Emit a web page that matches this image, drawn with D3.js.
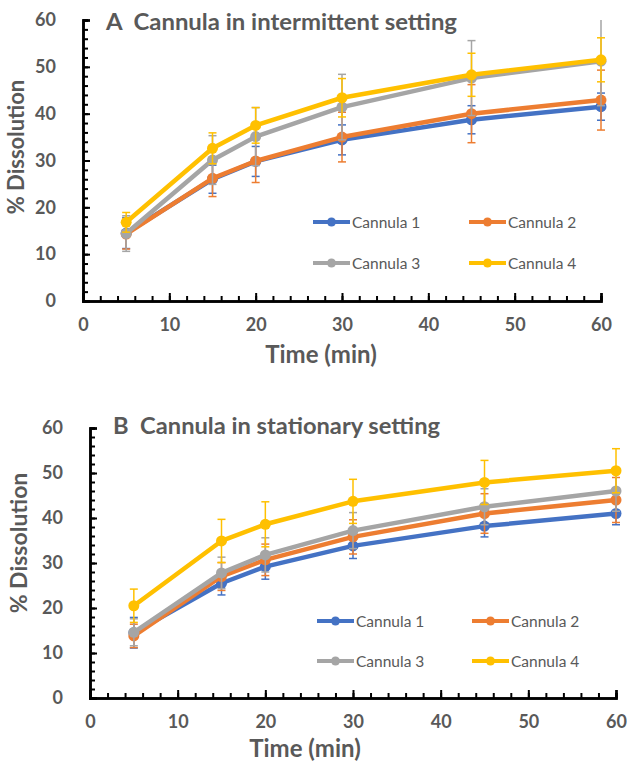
<!DOCTYPE html>
<html><head><meta charset="utf-8">
<script src="https://cdn.jsdelivr.net/npm/d3@7"></script>
<style>body{margin:0;background:#fff}svg{display:block}</style>
</head><body>
<script>
const times = [5, 15, 20, 30, 45, 60];
const seriesNames = ["Cannula 1", "Cannula 2", "Cannula 3", "Cannula 4"];
const seriesColors = ["#4472C4", "#ED7D31", "#A5A5A5", "#FFC000"];
const xTicks = [0, 10, 20, 30, 40, 50, 60];
const yTicks = [0, 10, 20, 30, 40, 50, 60];

// Panel A: intermittent setting
const aTitle = "A  Cannula in intermittent setting";
const aC1 = [14.5, 26.0, 29.8, 34.4, 38.7, 41.5];
const aC2 = [14.3, 26.2, 29.9, 35.0, 40.0, 42.9];
const aC3 = [14.4, 30.1, 35.1, 41.4, 47.6, 51.2];
const aC4 = [16.8, 32.6, 37.5, 43.4, 48.3, 51.5];
const aE1 = [3.3, 3.0, 3.2, 3.2, 3.0, 2.9];
const aE2 = [3.2, 3.9, 4.6, 5.3, 6.2, 6.4];
const aE3 = [3.8, 5.2, 6.2, 7.0, 8.0, 9.5];
const aE4 = [2.1, 3.3, 3.8, 4.1, 4.6, 4.7];

// Panel B: stationary setting
const bTitle = "B  Cannula in stationary setting";
const bC1 = [14.5, 25.5, 29.2, 33.8, 38.2, 41.0];
const bC2 = [13.8, 27.0, 30.7, 35.8, 41.0, 44.0];
const bC3 = [14.6, 27.8, 31.8, 37.2, 42.5, 46.0];
const bC4 = [20.5, 34.9, 38.6, 43.7, 47.9, 50.5];
const bE1 = [3.4, 2.6, 2.8, 2.8, 2.4, 2.5];
const bE2 = [2.6, 3.1, 3.5, 3.8, 4.4, 5.0];
const bE3 = [3.0, 3.5, 3.8, 4.0, 4.0, 4.5];
const bE4 = [3.7, 4.8, 5.0, 4.9, 4.9, 4.9];

const W = 627, H = 767;
const FONT = "Lato, 'Open Sans', sans-serif";
const GREY = "#595959";

const svg = d3.select("body").append("svg").attr("width", W).attr("height", H);

function panel(cfg) {
  const x = d3.scaleLinear().domain([0, 60]).range([cfg.x0, cfg.x1]);
  const y = d3.scaleLinear().domain([0, 60]).range([cfg.y0, cfg.y1]);
  const g = svg.append("g");
  const clipId = "clip" + cfg.id;
  svg.append("clipPath").attr("id", clipId).append("rect")
    .attr("x", cfg.x0 - 10).attr("y", cfg.y1).attr("width", cfg.x1 - cfg.x0 + 20).attr("height", cfg.y0 - cfg.y1);

  // title
  g.append("text").attr("x", cfg.titleX).attr("y", cfg.titleY)
    .attr("font-family", FONT).attr("font-weight", "bold").attr("font-size", 22)
    .attr("textLength", cfg.titleLen).attr("lengthAdjust", "spacingAndGlyphs")
    .attr("fill", GREY).style("white-space", "pre").text(cfg.title);

  // legend
  const leg = g.append("g");
  seriesNames.forEach((n, i) => {
    const lx = cfg.legX[i % 2], ly = cfg.legY[Math.floor(i / 2)];
    leg.append("line").attr("x1", lx).attr("x2", lx + 37).attr("y1", ly).attr("y2", ly)
      .attr("stroke", seriesColors[i]).attr("stroke-width", 4);
    leg.append("circle").attr("cx", lx + 18.5).attr("cy", ly).attr("r", 4.5).attr("fill", seriesColors[i]);
    leg.append("text").attr("x", lx + 39).attr("y", ly + 5.5)
      .attr("font-family", FONT).attr("font-size", 15.5).attr("fill", GREY).text(n);
  });

  // series
  const data = cfg.series;
  const plot = g.append("g").attr("clip-path", `url(#${clipId})`);
  data.forEach((s, i) => {
    const col = seriesColors[i];
    const eg = plot.append("g");
    times.forEach((t, k) => {
      const cx = x(t), lo = y(s.v[k] - s.e[k]), hi = y(s.v[k] + s.e[k]);
      eg.append("line").attr("x1", cx).attr("x2", cx).attr("y1", lo).attr("y2", hi)
        .attr("stroke", col).attr("stroke-width", 1.5);
      [lo, hi].forEach(yy => eg.append("line").attr("x1", cx - 4).attr("x2", cx + 4)
        .attr("y1", yy).attr("y2", yy).attr("stroke", col).attr("stroke-width", 1.5));
    });
    const line = d3.line().x((d, k) => x(times[k])).y(d => y(d));
    plot.append("path").datum(s.v).attr("d", line).attr("fill", "none")
      .attr("stroke", col).attr("stroke-width", 4.5).attr("stroke-linejoin", "round");
    plot.selectAll(null).data(s.v).enter().append("circle")
      .attr("cx", (d, k) => x(times[k])).attr("cy", d => y(d)).attr("r", 5.5).attr("fill", col);
  });

  // axes: minor ticks
  const yMinor = d3.axisLeft(y).tickValues(d3.range(0, 61, 2)).tickSize(-5).tickFormat("");
  const xMinor = d3.axisBottom(x).tickValues(d3.range(0, 61, 2)).tickSize(-5).tickFormat("");
  const yMajor = d3.axisLeft(y).tickValues(yTicks).tickSize(-7).tickPadding(27).tickFormat(d3.format("d"));
  const xMajor = d3.axisBottom(x).tickValues(xTicks).tickSize(-8).tickPadding(17).tickFormat(d3.format("d"));
  [yMinor, yMajor].forEach(ax => g.append("g").attr("transform", `translate(${cfg.x0},0)`).call(ax));
  [xMinor, xMajor].forEach(ax => g.append("g").attr("transform", `translate(0,${cfg.y0})`).call(ax));
  g.selectAll(".domain").attr("stroke", "#000").attr("stroke-width", 2.5);
  g.selectAll(".tick line").attr("stroke", "#000").attr("stroke-width", 2);
  g.selectAll(".tick text").attr("font-family", FONT).attr("font-weight", "bold")
    .attr("font-size", 18).attr("fill", GREY);

  // axis titles
  g.append("text").attr("x", cfg.xTitleX).attr("y", cfg.xTitleY).attr("text-anchor", "middle")
    .attr("font-family", FONT).attr("font-weight", "bold").attr("font-size", 24).attr("fill", GREY)
    .text("Time (min)");
  g.append("text").attr("transform", `translate(${cfg.yTitleX},${cfg.yTitleY}) rotate(-90)`)
    .attr("text-anchor", "middle")
    .attr("font-family", FONT).attr("font-weight", "bold").attr("font-size", cfg.yTitleSize).attr("fill", GREY)
    .text("% Dissolution");
}

panel({
  id: "A", title: aTitle, titleLen: 351, x0: 83, x1: 601, y0: 301, y1: 20,
  titleX: 106, titleY: 30, legX: [313, 469], legY: [222, 263],
  xTitleX: 321, xTitleY: 363, yTitleX: 24, yTitleY: 147, yTitleSize: 22,
  series: [{v: aC1, e: aE1}, {v: aC2, e: aE2}, {v: aC3, e: aE3}, {v: aC4, e: aE4}]
});
panel({
  id: "B", title: bTitle, titleLen: 327, x0: 90, x1: 616, y0: 698, y1: 428,
  titleX: 113, titleY: 434, legX: [317, 472], legY: [621, 661],
  xTitleX: 305, xTitleY: 757, yTitleX: 27, yTitleY: 543, yTitleSize: 23,
  series: [{v: bC1, e: bE1}, {v: bC2, e: bE2}, {v: bC3, e: bE3}, {v: bC4, e: bE4}]
});
</script>
</body></html>
